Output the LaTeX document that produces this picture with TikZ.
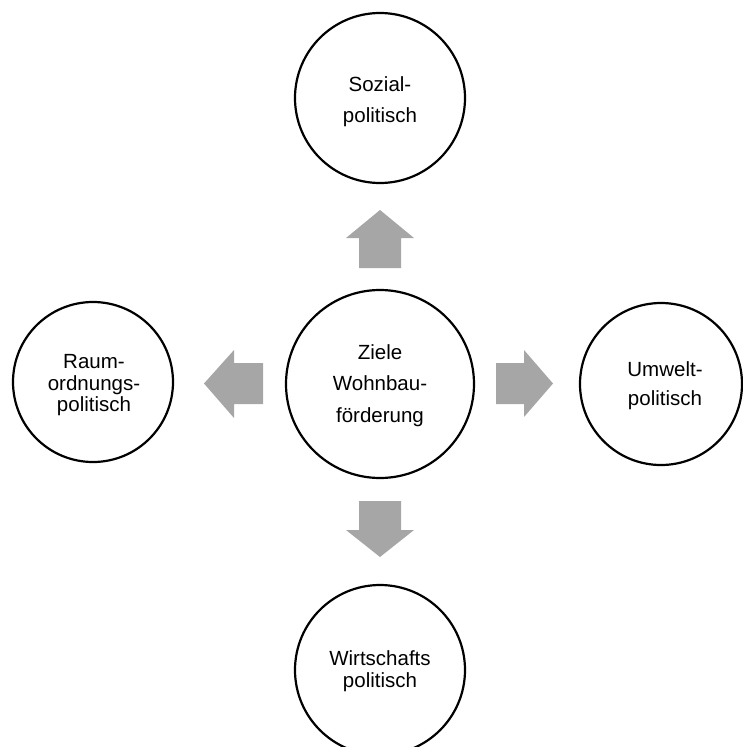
\documentclass[tikz,border=0pt]{standalone}
\usepackage{fontspec}
\setmainfont{Liberation Sans}
\begin{document}
\begin{tikzpicture}[x=1pt,y=-1pt,
  circ/.style={draw=black,line width=2.2pt,circle,inner sep=0pt,fill=none},
  lbl/.style={align=center,inner sep=0pt,text=black},
  blockarrow/.style={fill=black!35,draw=none}]
\useasboundingbox (0,0) rectangle (742,747);
% circles
\node[circ,minimum size=170pt] (sozial) at (380,98) {};
\node[circ,minimum size=188pt] (ziele) at (380,384) {};
\node[circ,minimum size=160pt] (raum) at (93,382) {};
\node[circ,minimum size=162pt] (umwelt) at (661,384) {};
\node[circ,minimum size=170pt] (wirt) at (380,670) {};
% texts
\node[lbl,font=\fontsize{20.5}{30.6}\selectfont] (sozialt) at (380,101.7) {Sozial-\\politisch};
\node[lbl,font=\fontsize{20.5}{31.5}\selectfont] (zielet) at (380,385.2) {Ziele\\Wohnbau-\\förderung};
\node[lbl,font=\fontsize{20.5}{21.5}\selectfont] (raumt) at (94,385.2) {Raum-\\ordnungs-\\politisch};
\node[lbl,font=\fontsize{20.5}{29.3}\selectfont] (umweltt) at (665,386) {Umwelt-\\politisch};
\node[lbl,font=\fontsize{20.5}{22.3}\selectfont] (wirtt) at (380,670.9) {Wirtschafts\\politisch};
% block arrows
\fill[blockarrow] (359,268) -- (359,238) -- (346,238) -- (380,210) -- (414,238) -- (401,238) -- (401,268) -- cycle;
\fill[blockarrow] (359,501) -- (359,530) -- (346,530) -- (380,557) -- (414,530) -- (401,530) -- (401,501) -- cycle;
\fill[blockarrow] (263,363) -- (234,363) -- (234,350) -- (204,383.5) -- (234,418) -- (234,404) -- (263,404) -- cycle;
\fill[blockarrow] (496,363) -- (524,363) -- (524,350) -- (553,383.5) -- (524,417) -- (524,404) -- (496,404) -- cycle;
\end{tikzpicture}
\end{document}
